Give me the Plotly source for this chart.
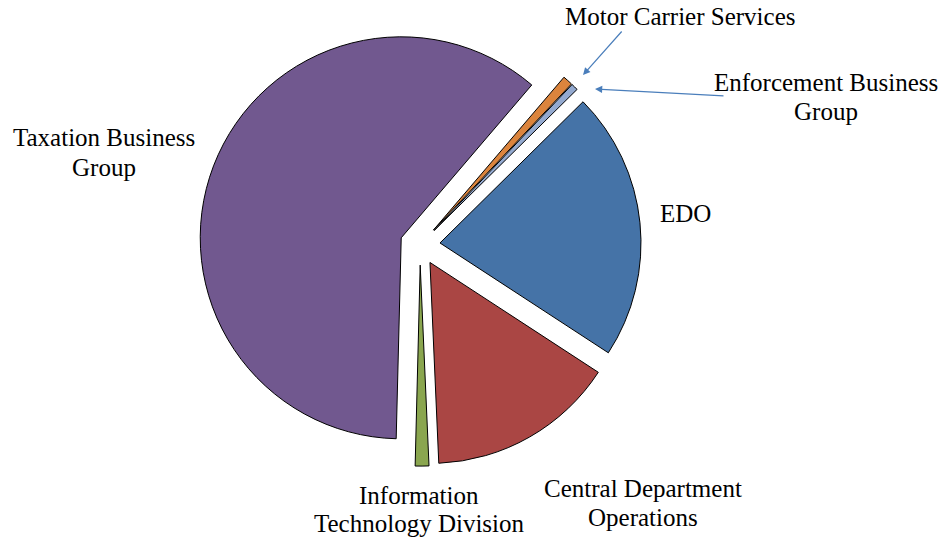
import plotly.graph_objects as go

# Share of budget by division (percent), listed clockwise from the top
divisions = [
    "Motor Carrier Services",
    "Enforcement Business Group",
    "EDO",
    "Central Department Operations",
    "Information Technology Division",
    "Taxation Business Group",
]
shares = [0.8, 0.55, 21.6, 15.1, 1.1, 60.85]
slice_colors = ["#DB843D", "#93A9CF", "#4573A7", "#AA4644", "#8AA64F", "#71588F"]
explode = [0.1, 0.1, 0.1, 0.1, 0.1, 0.1]

W, H = 949, 541
cx, cy, r = 420, 245, 201
half = r * (1 + max(explode))

fig = go.Figure(
    go.Pie(
        labels=divisions,
        values=shares,
        sort=False,
        direction="clockwise",
        rotation=40.5,
        pull=explode,
        marker=dict(colors=slice_colors, line=dict(color="#000000", width=1)),
        textinfo="none",
        hoverinfo="label+percent",
        showlegend=False,
        domain=dict(
            x=[(cx - half) / W, (cx + half) / W],
            y=[1 - (cy + half) / H, 1 - (cy - half) / H],
        ),
    )
)

FONT = dict(family="Liberation Serif, Times New Roman, serif", size=25, color="#000000")


def px(x, y):
    return x / W, 1 - y / H


# Category labels, one annotation per text line
label_lines = [
    ("Motor Carrier Services", 680, 17),
    ("Enforcement Business", 826, 83),
    ("Group", 826, 112),
    ("Taxation Business", 104, 137),
    ("Group", 104, 167),
    ("EDO", 685, 213),
    ("Central Department", 643, 488),
    ("Operations", 643, 517),
    ("Information", 419, 495),
    ("Technology Division", 419, 523),
]
annotations = []
for text, x, y in label_lines:
    ax_, ay_ = px(x, y)
    annotations.append(
        dict(text=text, x=ax_, y=ay_, xref="paper", yref="paper",
             showarrow=False, font=FONT, align="center",
             xanchor="center", yanchor="middle")
    )

# Leader arrows for the two thin slices
arrows = [((583, 75), (623, 30)), ((595, 89), (725, 96))]
for (tx, ty), (sx, sy) in arrows:
    ax_, ay_ = px(tx, ty)
    annotations.append(
        dict(text="", x=ax_, y=ay_, xref="paper", yref="paper",
             showarrow=True, ax=sx - tx, ay=sy - ty,
             arrowhead=2, arrowsize=1.2, arrowwidth=1.2, arrowcolor="#4A7EBB")
    )

fig.update_layout(
    width=W, height=H,
    margin=dict(l=0, r=0, t=0, b=0),
    paper_bgcolor="#FFFFFF",
    plot_bgcolor="#FFFFFF",
    annotations=annotations,
)

fig.write_html("out.html")
